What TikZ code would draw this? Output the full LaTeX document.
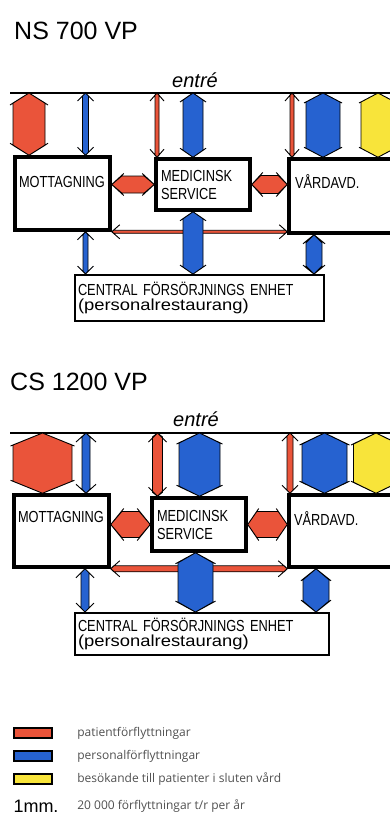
\documentclass[tikz,border=0pt]{standalone}
\usepackage{fontspec}
\setmainfont{Liberation Sans}
\newfontfamily\hand[FakeStretch=0.8]{Liberation Sans}
\newfontfamily\handwide[FakeStretch=1.15]{Liberation Sans}
\newfontfamily\keyfont{Open Sans}
\usepackage{xcolor}
\usepackage{tikz}
\usetikzlibrary{calc,positioning}

\definecolor{pred}{RGB}{234,84,58}
\definecolor{pblue}{RGB}{38,98,208}
\definecolor{pyellow}{RGB}{248,228,58}
\definecolor{keygray}{RGB}{80,80,80}

\begin{document}
\begin{tikzpicture}[
  x=1pt, y=-1pt,
  title/.style={font=\fontsize{25}{30}\selectfont, anchor=base west, inner sep=0pt},
  entre/.style={font=\itshape\fontsize{20}{24}\selectfont, anchor=base, inner sep=0pt},
  dept/.style={draw, line width=3.5pt, inner sep=0pt, inner xsep=4pt, align=left, font=\hand\fontsize{16}{18}\selectfont},
  unit/.style={draw, line width=1.8pt, inner sep=0pt, inner xsep=3pt, align=left, font=\hand\fontsize{16}{15}\selectfont},
  flow/.style n args={5}{fill=#1, draw=black, line width=0.9pt, line join=round,
    to path={let \p1=(\tikztostart), \p2=(\tikztotarget) in
      (\p1) -- ($(\p1)!#3!(\p2)!#2!90:(\p2)$) -- ($(\p2)!#3!(\p1)!#2!-90:(\p1)$)
      -- (\p2) -- ($(\p2)!#3!(\p1)!#2!90:(\p1)$) -- ($(\p1)!#3!(\p2)!#2!-90:(\p2)$) -- cycle
      (\p1) -- ($(\p1)!#4!(\p2)!#5!90:(\p2)$) (\p1) -- ($(\p1)!#4!(\p2)!#5!-90:(\p2)$)
      (\p2) -- ($(\p2)!#4!(\p1)!#5!90:(\p1)$) (\p2) -- ($(\p2)!#4!(\p1)!#5!-90:(\p1)$)}},
  swatch/.style={draw, line width=2.2pt, minimum width=38pt, minimum height=10pt, inner sep=0pt},
  keytext/.style={font=\keyfont\fontsize{12}{14}\selectfont, text=keygray, inner sep=0pt}
]
  \useasboundingbox (0,0) rectangle (389,816);

  % NS 700 VP
  \node[title] (nsTitle) at (14,40) {NS 700 VP};
  \node[entre] (nsEntre) at (195,87) {entré};
  \coordinate (nsL) at (10,93);
  \coordinate (nsR) at (395,93);
  \draw[line width=1.6pt] (nsL) -- (nsR);

  \node[dept, text width=87pt, text height=30pt, text depth=43pt] (nsMott) at (62.5,193.5) {MOTTAGNING};
  \node[dept, text width=84pt, inner xsep=5pt, minimum height=51pt] (nsMed) at (203,184.5) {MEDICINSK\\SERVICE};
  \node[dept, text width=110pt, inner xsep=6pt, text height=29pt, text depth=45pt] (nsVard) at (350,196) {VÅRDAVD.};
  \node[unit, text width=243pt, minimum height=46pt] (nsCent) at (199.5,298) {CENTRAL FÖRSÖRJNINGS ENHET\\{\handwide (personalrestaurang)}};

  \coordinate (nsE1) at (29,0 |- nsL);
  \coordinate (nsE2) at (85.5,0 |- nsL);
  \coordinate (nsE3) at (157,0 |- nsL);
  \coordinate (nsE4) at (193,0 |- nsL);
  \coordinate (nsE5) at (292,0 |- nsL);
  \coordinate (nsE6) at (323,0 |- nsL);
  \coordinate (nsE7) at (378,0 |- nsL);
  \coordinate (nsC1) at (85.5,0 |- nsCent.north);
  \coordinate (nsC2) at (193,0 |- nsCent.north);
  \coordinate (nsC3) at (314,0 |- nsCent.north);

  \draw[flow={pred}{16pt}{10pt}{12pt}{19pt}] (nsE1) to (nsE1 |- nsMott.north);
  \draw[flow={pblue}{3pt}{3pt}{8pt}{8pt}] (nsE2) to (nsE2 |- nsMott.north);
  \draw[flow={pred}{2pt}{2pt}{8pt}{7pt}] (nsE3) to (nsE3 |- nsMed.north);
  \draw[flow={pblue}{10pt}{7pt}{9pt}{13pt}] (nsE4) to (nsE4 |- nsMed.north);
  \draw[flow={pred}{2pt}{2pt}{8pt}{7pt}] (nsE5) to (nsE5 |- nsVard.north);
  \draw[flow={pblue}{17pt}{9pt}{10pt}{19pt}] (nsE6) to (nsE6 |- nsVard.north);
  \draw[flow={pyellow}{17pt}{9pt}{10pt}{19pt}] (nsE7) to (nsE7 |- nsVard.north);
  \draw[flow={pred}{8.5pt}{10pt}{12pt}{11pt}] (nsMott.east |- nsMed.west) to (nsMed.west);
  \draw[flow={pred}{9pt}{9pt}{11pt}{12pt}] (nsMed.east) to (nsMed.east -| nsVard.west);
  \draw[flow={pred}{1.5pt}{2pt}{8pt}{7pt}] (nsMott.south east) to (nsMott.south east -| nsVard.west);
  \draw[flow={pblue}{2.5pt}{3pt}{8pt}{8pt}] (nsC1 |- nsMott.south) to (nsC1);
  \draw[flow={pblue}{10pt}{7pt}{9pt}{13pt}] (nsC2 |- nsMed.south) to (nsC2);
  \draw[flow={pblue}{8pt}{8pt}{9pt}{11pt}] (nsC3 |- nsVard.south) to (nsC3);

  % CS 1200 VP
  \node[title] (csTitle) at (10,390) {CS 1200 VP};
  \node[entre] (csEntre) at (196,426) {entré};
  \coordinate (csL) at (10,433);
  \coordinate (csR) at (395,433);
  \draw[line width=1.6pt] (csL) -- (csR);

  \node[dept, text width=87pt, text height=27pt, text depth=45pt] (csMott) at (61.5,531) {MOTTAGNING};
  \node[dept, text width=84pt, inner xsep=5pt, minimum height=53pt] (csMed) at (199,524.5) {MEDICINSK\\SERVICE};
  \node[dept, text width=111pt, inner xsep=5pt, text height=30pt, text depth=42pt] (csVard) at (349.5,531) {VÅRDAVD.};
  \node[unit, text width=248pt, minimum height=42pt] (csCent) at (202,634) {CENTRAL FÖRSÖRJNINGS ENHET\\{\handwide (personalrestaurang)}};

  \coordinate (csE1) at (42.5,0 |- csL);
  \coordinate (csE2) at (86,0 |- csL);
  \coordinate (csE3) at (157.5,0 |- csL);
  \coordinate (csE4) at (199.5,0 |- csL);
  \coordinate (csE5) at (290,0 |- csL);
  \coordinate (csE6) at (324.5,0 |- csL);
  \coordinate (csE7) at (376,0 |- csL);
  \coordinate (csC1) at (85,0 |- csCent.north);
  \coordinate (csC2) at (195.5,0 |- csCent.north);
  \coordinate (csC3) at (316,0 |- csCent.north);

  \draw[flow={pred}{29.5pt}{12pt}{13pt}{32pt}] (csE1) to (csE1 |- csMott.north);
  \draw[flow={pblue}{4pt}{4pt}{9pt}{10pt}] (csE2) to (csE2 |- csMott.north);
  \draw[flow={pred}{5pt}{4pt}{9pt}{9pt}] (csE3) to (csE3 |- csMed.north);
  \draw[flow={pblue}{20.5pt}{10pt}{11pt}{23pt}] (csE4) to (csE4 |- csMed.north);
  \draw[flow={pred}{3pt}{3pt}{8pt}{8pt}] (csE5) to (csE5 |- csVard.north);
  \draw[flow={pblue}{22.5pt}{11pt}{12pt}{25pt}] (csE6) to (csE6 |- csVard.north);
  \draw[flow={pyellow}{22.5pt}{11pt}{12pt}{25pt}] (csE7) to (csE7 |- csVard.north);
  \draw[flow={pred}{13pt}{11pt}{13pt}{16pt}] (csMott.east |- csMed.west) to (csMed.west);
  \draw[flow={pred}{13pt}{9pt}{11pt}{16pt}] (csMed.east) to (csMed.east -| csVard.west);
  \draw[flow={pred}{3pt}{3pt}{9pt}{8pt}] (csMott.south east) to (csMott.south east -| csVard.west);
  \draw[flow={pblue}{4pt}{4pt}{9pt}{9pt}] (csC1 |- csMott.south) to (csC1);
  \draw[flow={pblue}{17.5pt}{10pt}{11pt}{20pt}] (csC2 |- csMed.south) to (csC2);
  \draw[flow={pblue}{13pt}{11pt}{12pt}{15pt}] (csC3 |- csVard.south) to (csC3);

  % legend
  \node[swatch, fill=pred] (keyPat) at (33,733) {};
  \node[swatch, fill=pblue] (keyPers) at (33,756) {};
  \node[swatch, fill=pyellow] (keyVis) at (33,779) {};
  \node[font=\fontsize{18}{20}\selectfont, inner sep=0pt] (keyScale) at (36,806) {1mm.};
  \node[keytext, right=24pt of keyPat] (keyPatText) {patientförflyttningar};
  \node[keytext, right=24pt of keyPers] (keyPersText) {personalförflyttningar};
  \node[keytext, right=24pt of keyVis] (keyVisText) {besökande till patienter i sluten vård};
  \node[keytext, anchor=west] (keyScaleText) at (keyVisText.west |- keyScale) {20 000 förflyttningar t/r per år};
\end{tikzpicture}
\end{document}
